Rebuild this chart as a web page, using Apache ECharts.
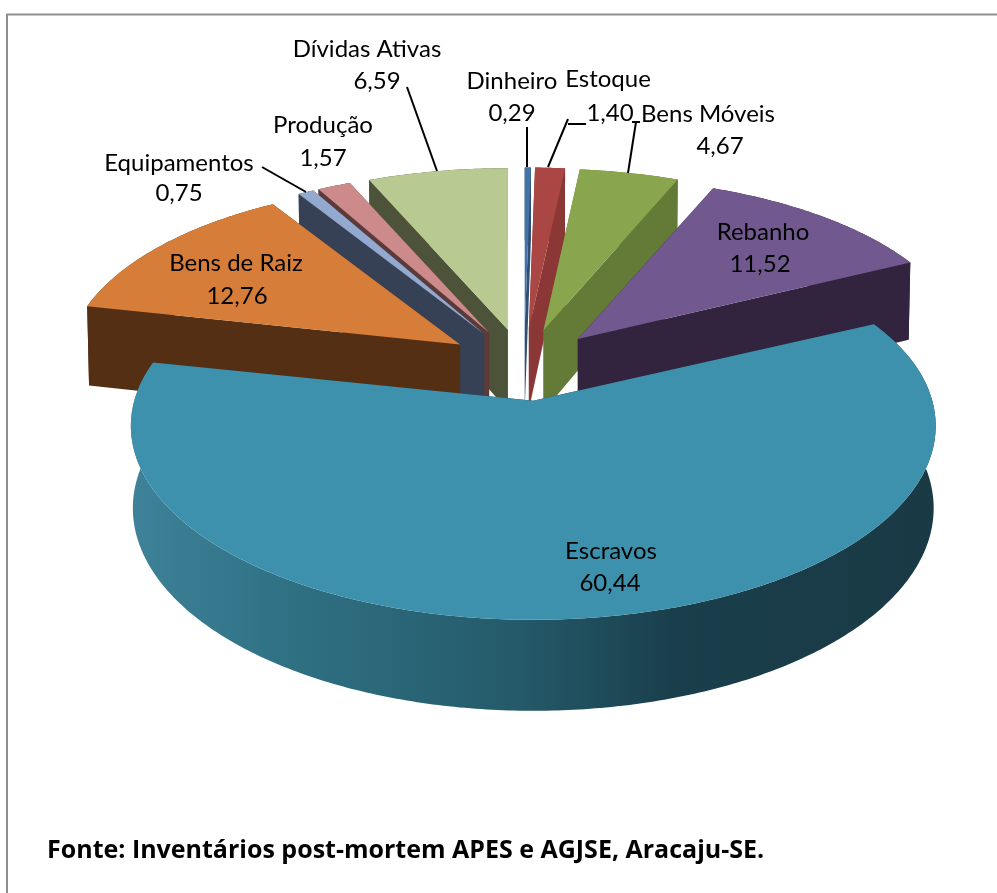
<!DOCTYPE html>
<html><head><meta charset="utf-8">
<style>html,body{margin:0;padding:0;background:#fff}#c{width:997px;height:893px}</style>
<script src="https://cdn.jsdelivr.net/npm/echarts@6/dist/echarts.min.js"></script>
</head><body><div id="c"></div>
<script>
// data
const categories = ['Dinheiro','Estoque','Bens Móveis','Rebanho','Escravos','Bens de Raiz','Equipamentos','Produção','Dívidas Ativas'];
const values = [0.29,1.40,4.67,11.52,60.44,12.76,0.75,1.57,6.59];
const topColors = ['#4573A7','#AA4643','#89A54E','#71588F','#3E91AC','#D67E39','#93A9CF','#CC8B8A','#B8CA92'];
const wallColors = ['#2F4F74','#8B3735','#647A37','#32243F','#1A3E4B','#552F14','#374155','#5B3A3A','#4C5338'];
const source = 'Fonte: Inventários post-mortem APES e AGJSE, Aracaju-SE.';

// projection of the tilted pie
const PIE = {cx:524, cy:365, ex:78, ey:36, rx:399, ry:190.6, depth:81, persp:0.13, backPersp:0.18, shrink:0.995, farScale:0.033};
const total = values.reduce((a,b)=>a+b,0);
let run = 0;
const slices = values.map((v,i)=>{
  const a0 = run/total*2*Math.PI; run += v;
  const a1 = run/total*2*Math.PI;
  return {i, a0, a1, mid:(a0+a1)/2};
});
function apex(s){ return [PIE.cx+PIE.ex*Math.sin(s.mid), PIE.cy-PIE.ey*Math.cos(s.mid)]; }
function rim(s,t,low){
  const X=Math.sin(t), Z=Math.cos(t), o=apex(s);
  const far=1-PIE.farScale*Math.max(0,Math.cos(s.mid));
  const u=X/(1+PIE.persp*Z)*PIE.rx*far;
  const v=(Z>0?Z/(1+PIE.backPersp*Z):Z/(1+PIE.persp*Z))*PIE.ry;
  if(!low) return [o[0]+u,o[1]-v];
  return [o[0]+u*PIE.shrink,o[1]-v+PIE.depth/(1+0.11*Z)];
}
function arc(s,low){
  const n=Math.max(2,Math.ceil((s.a1-s.a0)/0.012)), p=[];
  for(let k=0;k<=n;k++) p.push(rim(s,s.a0+(s.a1-s.a0)*k/n,low));
  return p;
}
const drawOrder = slices.slice().sort((a,b)=>Math.cos(b.mid)-Math.cos(a.mid));

function renderSlice(params){
  const s = drawOrder[params.dataIndex], o = apex(s);
  const low=[o[0],o[1]+PIE.depth], top=arc(s,false), bot=arc(s,true);
  const wall = s.i===4
    ? new echarts.graphic.LinearGradient(0,0,1,0,[
        {offset:0,color:'#3E8299'},{offset:0.2,color:'#2F7083'},{offset:0.48,color:'#245A6A'},
        {offset:0.68,color:'#1A3E4B'},{offset:1,color:'#193A45'}])
    : wallColors[s.i];
  const poly=(pts,fill)=>({type:'polygon',shape:{points:pts},style:{fill,stroke:null}});
  return {type:'group',children:[
    poly([o,top[0],bot[0],low],wallColors[s.i]),
    poly([o,top[top.length-1],bot[bot.length-1],low],wallColors[s.i]),
    poly(top.concat(bot.slice().reverse()),wall),
    poly([o].concat(top),topColors[s.i])
  ]};
}

// label placement: [name x, name y, value x, value y]
const labelPlace = [
  [512,81,512,113],[608,79,610,113],[708,114,720,146],[763,232,760,264],[611,551,610,583],
  [236,263,237,296],[179,163,179,193],[323,125,323,158],[367,49,377,81]
];
const leaders = [
  [[527,127],[527,167]],
  [[586,124],[568,124]],
  [[568,119],[548,167]],
  [[636,122],[628,173]],
  [[632,122],[640,122]],
  [[407,87],[437,171]],
  [[262,167],[306,192]]
];
function renderLabel(params){
  const i=params.dataIndex, p=labelPlace[i];
  const txt=(t,x,y)=>({type:'text',style:{text:t,x,y,align:'center',verticalAlign:'middle',fill:'#000',
    fontFamily:'Lato',fontSize:24}});
  return {type:'group',children:[
    txt(categories[i],p[0],p[1]),
    txt(values[i].toFixed(2).replace('.',','),p[2],p[3])
  ]};
}

const chart = echarts.init(document.getElementById('c'),null,{renderer:'canvas'});
chart.setOption({
  animation:false,
  backgroundColor:'#fff',
  series:[
    {type:'custom',coordinateSystem:'none',silent:true,renderItem:renderSlice,data:drawOrder.map(s=>values[s.i]),z:1},
    {type:'custom',coordinateSystem:'none',silent:true,renderItem:renderLabel,data:values,z:3}
  ],
  graphic:[
    {type:'polyline',z:0,shape:{points:[[7,893],[7,14.5],[997,14.5]]},style:{stroke:'#8E8E8E',lineWidth:2,fill:null}},
    ...leaders.map(l=>({type:'line',z:5,shape:{x1:l[0][0],y1:l[0][1],x2:l[1][0],y2:l[1][1]},style:{stroke:'#000',lineWidth:2}})),
    {type:'text',z:5,style:{text:source,x:47,y:851,verticalAlign:'middle',fill:'#000',fontFamily:'Open Sans',fontWeight:'bold',fontSize:25}}
  ]
});
</script></body></html>
